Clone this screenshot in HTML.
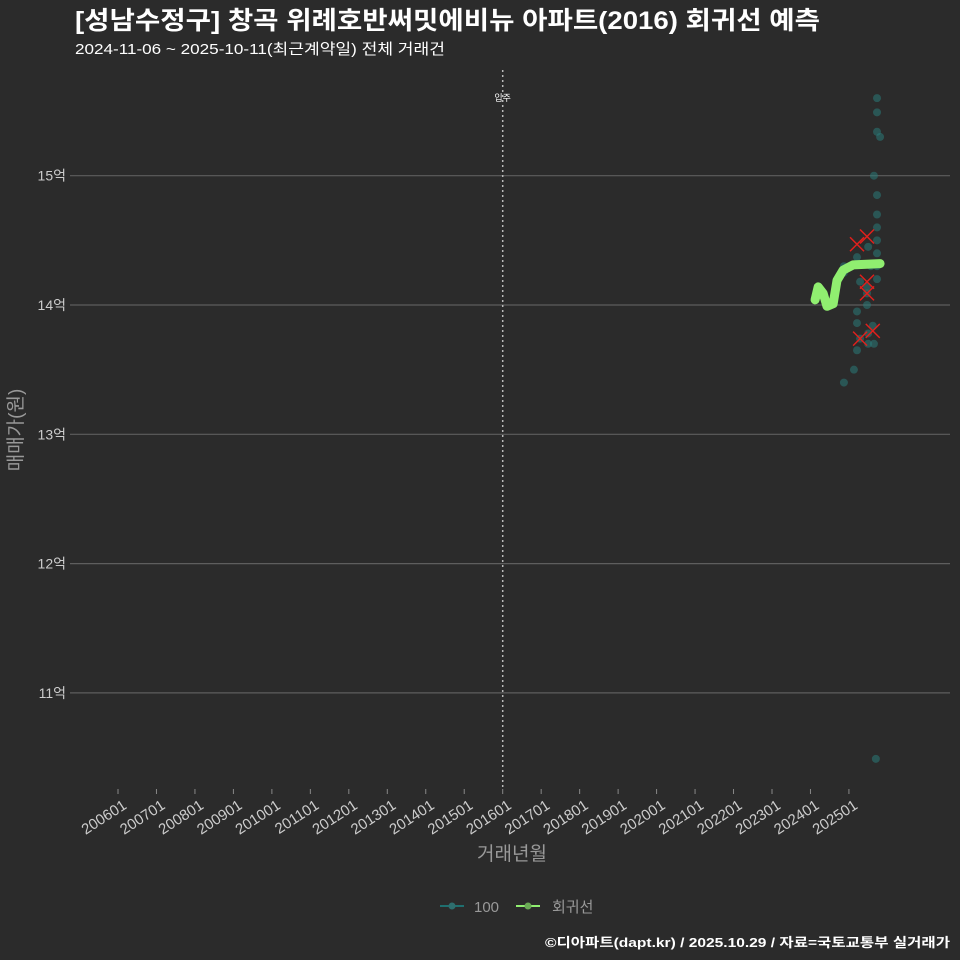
<!DOCTYPE html>
<html><head><meta charset="utf-8"><style>
body{margin:0;background:#2b2b2b;}
svg{display:block;font-family:"Liberation Sans","Noto Sans CJK KR",sans-serif;}
</style></head><body>
<svg id="c" width="960" height="960" viewBox="0 0 960 960">
<rect width="960" height="960" fill="#2b2b2b"/>
<text x="75" y="29" font-size="25" font-weight="bold" fill="#ffffff" textLength="745" lengthAdjust="spacingAndGlyphs">[성남수정구] 창곡 위례호반써밋에비뉴 아파트(2016) 회귀선 예측</text>
<text x="75" y="54" font-size="15" fill="#ffffff" textLength="370" lengthAdjust="spacingAndGlyphs">2024-11-06 ~ 2025-10-11(최근계약일) 전체 거래건</text>
<g id="grid"></g><g id="xax"></g><g id="marks"></g>
<text x="512" y="860" font-size="19" fill="#999" text-anchor="middle">거래년월</text>
<text transform="translate(22,430) rotate(-90)" font-size="19" fill="#999" text-anchor="middle">매매가(원)</text>
<g>
<line x1="440" y1="906" x2="464" y2="906" stroke="#1f6f6f" stroke-width="2"/><circle cx="452" cy="906" r="3.5" fill="#2e6e6e"/>
<text x="474" y="912" font-size="15" fill="#999">100</text>
<line x1="516" y1="906" x2="540" y2="906" stroke="#90ee70" stroke-width="2"/><circle cx="528" cy="906" r="3.5" fill="#6aaa55"/>
<text x="552" y="912" font-size="15" fill="#999">회귀선</text>
</g>
<text x="950" y="947" font-size="13" font-weight="bold" fill="#fff" text-anchor="end" textLength="405" lengthAdjust="spacingAndGlyphs">©디아파트(dapt.kr) / 2025.10.29 / 자료=국토교통부 실거래가</text>
</svg>
<script>
const yTicks=[11,12,13,14,15];
const xTickYears=[2006,2007,2008,2009,2010,2011,2012,2013,2014,2015,2016,2017,2018,2019,2020,2021,2022,2023,2024,2025];
const moveInYear=2016.0;
const ptYear=[2025.73,2025.73,2025.73,2025.81,2025.65,2025.73,2025.73,2025.73,2025.73,2025.73,2025.50,2025.21,2024.87,2025.57,2025.73,2024.87,2025.73,2025.29,2025.47,2025.47,2025.47,2025.21,2025.21,2025.62,2025.50,2025.29,2025.50,2025.65,2025.21,2025.13,2024.87,2025.70];
const ptPrice=[15.6,15.49,15.34,15.3,15.0,14.85,14.7,14.6,14.5,14.4,14.45,14.37,14.3,14.3,14.3,14.25,14.2,14.18,14.14,14.09,14.0,13.95,13.86,13.84,13.78,13.74,13.7,13.7,13.65,13.5,13.4,10.49];
const xYear=[2025.21,2025.47,2025.47,2025.29,2025.62,2025.47];
const xPrice=[14.47,14.53,14.09,13.74,13.80,14.18];
const regYear=[2024.12,2024.20,2024.33,2024.43,2024.59,2024.69,2024.85,2025.11,2025.81];
const regPrice=[14.04,14.14,14.09,13.99,14.01,14.19,14.27,14.31,14.32];
const X=y=>118+(y-2006)*38.47, Y=v=>305-(v-14)*129.3;
const ns="http://www.w3.org/2000/svg";
function mk(p,t,a){const e=document.createElementNS(ns,t);for(const k in a)e.setAttribute(k,a[k]);p.appendChild(e);return e;}
const grid=document.getElementById('grid'),xax=document.getElementById('xax'),marks=document.getElementById('marks');
yTicks.forEach(v=>{
 const l=mk(grid,'line',{x1:70,x2:950,y1:Y(v),y2:Y(v),stroke:'#5e5e5e','stroke-width':1.2});
 
 
 const t=mk(grid,'text',{x:66,y:Y(v)+5,'font-size':14,fill:'#ccc','text-anchor':'end'});t.textContent=v+'억';
 
 
});
xTickYears.forEach(y=>{
 const x=X(y);
 const l=mk(xax,'line',{x1:x,x2:x,y1:789,y2:794,stroke:'#888'});
 
 
 const t=mk(xax,'text',{transform:`translate(${x+4},799) rotate(-33)`,'font-size':15,fill:'#ccc','text-anchor':'end','dominant-baseline':'hanging'});t.textContent=y+'01';
 
 
});
const mx=X(moveInYear);
const vl=mk(marks,'line',{x1:mx,x2:mx,y1:70,y2:790,stroke:'#bbb','stroke-width':1.5,'stroke-dasharray':'2,3'});


const vt=mk(marks,'text',{x:mx,y:101,'font-size':9,fill:'#fff','text-anchor':'middle'});vt.textContent='입주';


ptYear.forEach((y,i)=>{
 const c=mk(marks,'circle',{cx:X(y),cy:Y(ptPrice[i]),r:4,fill:'#2a7a78','fill-opacity':0.55});
 
 
});
const d=regYear.map((y,i)=>(i?'L':'M')+X(y)+','+Y(regPrice[i])).join('');
const rl=mk(marks,'path',{d:d,fill:'none',stroke:'#90ee70','stroke-width':9,'stroke-linecap':'round','stroke-linejoin':'round'});


xYear.forEach((y,i)=>{
 const x=X(y),yy=Y(xPrice[i]);
 const p=mk(marks,'path',{d:`M${x-7},${yy-7}L${x+7},${yy+7}M${x+7},${yy-7}L${x-7},${yy+7}`,stroke:'#e0201c','stroke-width':1.5});
 
 
});
</script>
</body></html>
